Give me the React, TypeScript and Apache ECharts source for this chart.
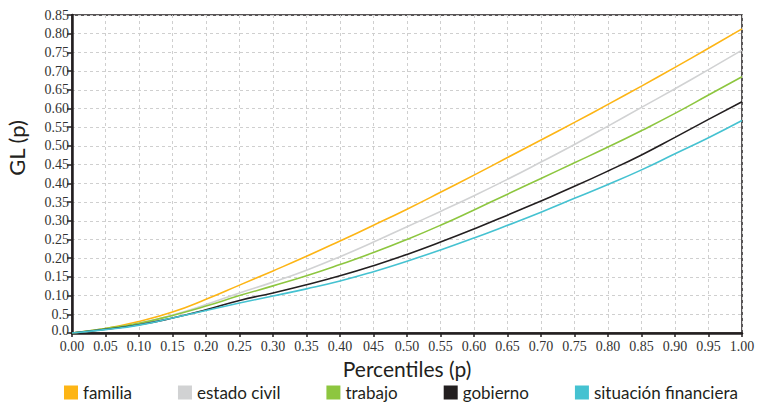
import React, { useEffect, useRef } from "react";
import * as echarts from "echarts";

const percentiles = [0, 0.05, 0.1, 0.15, 0.2, 0.25, 0.3, 0.35, 0.4, 0.45, 0.5, 0.55, 0.6, 0.65, 0.7, 0.75, 0.8, 0.85, 0.9, 0.95, 1.0];

const familia = [0, 0.012, 0.031, 0.056, 0.090, 0.128, 0.166, 0.205, 0.246, 0.288, 0.331, 0.376, 0.422, 0.469, 0.516, 0.563, 0.611, 0.660, 0.710, 0.761, 0.813];
const estadoCivil = [0, 0.011, 0.026, 0.048, 0.076, 0.107, 0.136, 0.168, 0.204, 0.243, 0.284, 0.325, 0.367, 0.411, 0.457, 0.504, 0.553, 0.603, 0.653, 0.704, 0.756];
const trabajo = [0, 0.012, 0.026, 0.047, 0.072, 0.100, 0.126, 0.153, 0.183, 0.215, 0.250, 0.288, 0.329, 0.371, 0.413, 0.455, 0.497, 0.541, 0.587, 0.636, 0.685];
const gobierno = [0, 0.010, 0.022, 0.040, 0.062, 0.087, 0.107, 0.129, 0.153, 0.180, 0.210, 0.243, 0.278, 0.315, 0.353, 0.392, 0.433, 0.476, 0.523, 0.571, 0.618];
const situacionFinanciera = [0, 0.009, 0.021, 0.040, 0.060, 0.080, 0.099, 0.118, 0.139, 0.164, 0.192, 0.222, 0.254, 0.288, 0.323, 0.360, 0.397, 0.436, 0.479, 0.522, 0.568];

const seriesNames = ["familia", "estado civil", "trabajo", "gobierno", "situación financiera"];
const seriesValues = [familia, estadoCivil, trabajo, gobierno, situacionFinanciera];
const seriesColors = ["#FDB515", "#D1D2D3", "#8DC63F", "#231F20", "#45C2D1"];

const xTickLabels = ["0.00", "0.05", "0.10", "0.15", "0.20", "0.25", "0.30", "0.35", "0.40", "045", "0.50", "0.55", "0.60", "0.65", "0.70", "0.75", "0.80", "0.85", "0.90", "0.95", "1.00"];
const yTickLabels = ["0.0", "0.5", "0.10", "0.15", "0.20", "0.25", "0.30", "0.35", "0.40", "0.45", "0.50", "0.55", "0.60", "0.65", "0.70", "0.75", "0.80", "0.85"];

const xAxisName = "Percentiles (p)";
const yAxisName = "GL (p)";

export default function App() {
  const ref = useRef<HTMLDivElement>(null);
  useEffect(() => {
    if (!ref.current) return;
    document.body.style.margin = "0";
    const chart = echarts.init(ref.current, undefined, { renderer: "svg" });
    const dark = "#231F20";
    const tickFont = "Liberation Serif";
    const sansFont = "Lato";
    chart.setOption({
      animation: false,
      backgroundColor: "#ffffff",
      grid: {
        left: 72,
        right: 17,
        top: 15,
        bottom: 73,
        show: true,
        borderColor: dark,
        borderWidth: 1.5,
      },
      legend: {
        bottom: 0,
        left: 59,
        icon: "rect",
        itemWidth: 14,
        itemHeight: 14,
        itemGap: 46,
        data: seriesNames,
        textStyle: { fontFamily: sansFont, fontSize: 17, color: dark },
      },
      graphic: [
        {
          type: "text",
          x: 16,
          y: 148,
          rotation: Math.PI / 2,
          style: {
            text: yAxisName,
            fontFamily: sansFont,
            fontSize: 22,
            fill: dark,
            align: "center",
            verticalAlign: "middle",
          },
        },
      ],
      xAxis: {
        type: "value",
        min: 0,
        max: 1,
        interval: 0.05,
        name: xAxisName,
        nameLocation: "middle",
        nameGap: 2,
        nameTextStyle: { fontFamily: sansFont, fontSize: 21, color: dark, verticalAlign: "top", lineHeight: 22 },
        axisLine: { lineStyle: { color: dark, width: 2.5 } },
        axisTick: { show: true, length: 4, lineStyle: { color: dark, width: 1.5 } },
        axisLabel: {
          fontFamily: tickFont,
          fontSize: 14,
          color: "#333",
          margin: 6,
          formatter: (v: number) => xTickLabels[Math.round(v / 0.05)] ?? "",
        },
        splitLine: { show: true, lineStyle: { color: "#cfcfcf", type: [3, 3], width: 1 } },
      },
      yAxis: {
        type: "value",
        min: 0,
        max: 0.85,
        interval: 0.05,
        axisLine: { show: true, lineStyle: { color: dark, width: 2.5 } },
        axisTick: { show: true, length: 5, lineStyle: { color: dark, width: 1.5 } },
        axisLabel: {
          fontFamily: tickFont,
          fontSize: 14,
          color: "#333",
          margin: 3,
          formatter: (v: number) => {
            const i = Math.round(v / 0.05);
            const t = yTickLabels[i] ?? "";
            return i === 0 ? "{z|" + t + "}" : t;
          },
          rich: {
            z: { fontFamily: tickFont, fontSize: 14, color: "#333", padding: [0, 0, 5, 0] },
          },
        },
        splitLine: { show: true, lineStyle: { color: "#cfcfcf", type: [3, 3], width: 1 } },
      },
      series: seriesNames.map((name, i) => ({
        name,
        type: "line",
        smooth: 0.5,
        showSymbol: false,
        symbol: "none",
        color: seriesColors[i],
        lineStyle: { color: seriesColors[i], width: 1.6 },
        data: percentiles.map((p, j) => [p, seriesValues[i][j]]),
      })),
    });
    return () => chart.dispose();
  }, []);
  return <div ref={ref} style={{ width: 759, height: 406 }} />;
}
